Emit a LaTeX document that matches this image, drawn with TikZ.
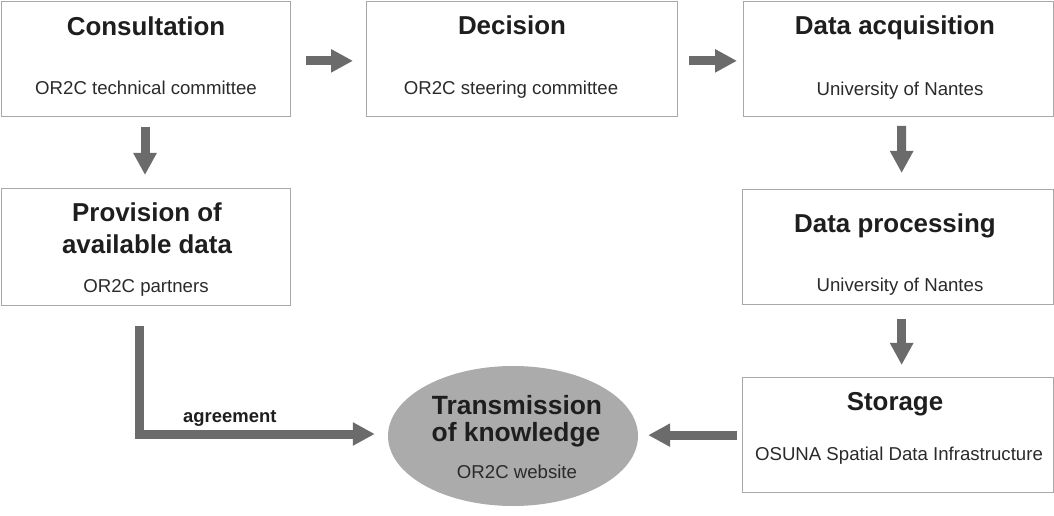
\documentclass[tikz,border=0pt]{standalone}
\usepackage{fontspec}
\setmainfont{Liberation Sans}
\usetikzlibrary{arrows.meta,shapes.geometric}
\definecolor{boxgray}{HTML}{A8A8A8}
\definecolor{arrgray}{HTML}{6B6B6B}
\definecolor{ellgray}{HTML}{ABABAB}
\definecolor{txt}{HTML}{1E1E1E}
\definecolor{subtxt}{HTML}{2A2A2A}
\tikzset{
  box/.style={draw=boxgray, line width=1.3bp, rectangle, inner sep=0pt, anchor=north west},
  ttl/.style={font=\fontsize{26}{30}\selectfont\bfseries, text=txt, anchor=base, inner sep=0pt},
  ettl/.style={font=\fontsize{26.5}{30}\selectfont\bfseries, text=txt, anchor=base, inner sep=0pt},
  sub/.style={font=\fontsize{18.7}{22}\selectfont, text=subtxt, anchor=base, inner sep=0pt},
  lbl/.style={font=\fontsize{18.5}{20}\selectfont\bfseries, text=txt, anchor=base west, inner sep=0pt},
  arr/.style={draw=arrgray, line width=9bp, line join=miter, -{Triangle[width=22bp,length=22bp]}}
}
\begin{document}
\begin{tikzpicture}[x=1bp,y=-1bp]
\useasboundingbox (0,0) rectangle (1054,516);
% boxes
\node[box, minimum width=289.3bp, minimum height=115bp] (cons) at (0.7,0.7) {};
\node[box, minimum width=311bp, minimum height=115bp] (dec) at (366,0.7) {};
\node[box, minimum width=310bp, minimum height=115bp] (acq) at (743,0.7) {};
\node[box, minimum width=289.3bp, minimum height=117bp] (prov) at (0.7,188) {};
\node[box, minimum width=311bp, minimum height=115bp] (proc) at (742,189) {};
\node[box, minimum width=311bp, minimum height=115bp] (stor) at (742,377) {};
\node[ellipse, fill=ellgray, minimum width=250bp, minimum height=140bp, inner sep=0pt] (ell) at (513,436) {};
% texts
\node[ttl] (t1) at (146,36) {Consultation};
\node[sub] (s1) at (146,95) {OR2C technical committee};
\node[ttl] (t2) at (512,35) {Decision};
\node[sub] (s2) at (511,95) {OR2C steering committee};
\node[ttl] (t3) at (895,35) {Data acquisition};
\node[sub] (s3) at (900,96) {University of Nantes};
\node[ttl] (t4a) at (147,222) {Provision of};
\node[ttl] (t4b) at (147,254) {available data};
\node[sub] (s4) at (146,293) {OR2C partners};
\node[ttl] (t5) at (895,233) {Data processing};
\node[sub] (s5) at (900,292) {University of Nantes};
\node[ttl] (t6) at (895,410) {Storage};
\node[sub] (s6) at (899,460) {OSUNA Spatial Data Infrastructure};
\node[ettl] (t7a) at (517,414) {Transmission};
\node[ettl] (t7b) at (516,441) {of knowledge};
\node[sub] (s7) at (517,478) {OR2C website};
\node[lbl] (agr) at (183,422) {agreement};
% connectors
\draw[arr, shorten <=15bp, shorten >=13bp] ([yshift=-2bp]cons.east) -- ([yshift=-2bp]dec.west);
\draw[arr, shorten <=11bp, shorten >=6bp] ([yshift=-2bp]dec.east) -- ([yshift=-2bp]acq.west);
\draw[arr, shorten <=10bp, shorten >=13bp] ([xshift=-1bp]cons.south) -- ([xshift=-1bp]prov.north);
\draw[arr, shorten <=9bp, shorten >=16bp] ([xshift=3bp]acq.south) -- ([xshift=3.5bp]proc.north);
\draw[arr, shorten <=14bp, shorten >=12bp] ([xshift=3.5bp]proc.south) -- ([xshift=3.5bp]stor.north);
\draw[arr, shorten <=5bp, shorten >=10bp] (stor.west) -- (ell.east |- stor.west);
\draw[arr, shorten <=20bp, shorten >=13bp] ([xshift=-7bp]prov.south) |- ([yshift=2bp]ell.west);
\end{tikzpicture}
\end{document}
